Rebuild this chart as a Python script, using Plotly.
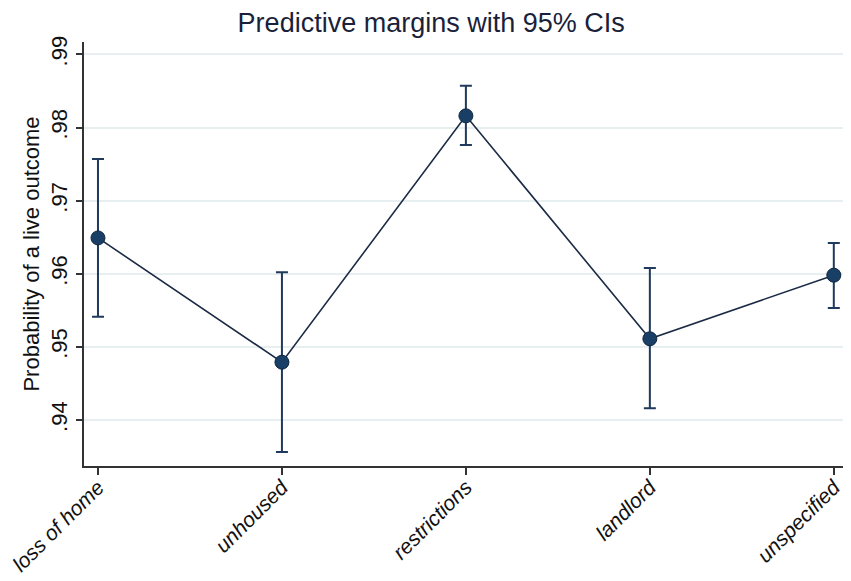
import plotly.graph_objects as go

# Predictive margins
categories = ["loss of home", "unhoused", "restrictions", "landlord", "unspecified"]
margin = [0.9649, 0.9479, 0.9816, 0.9511, 0.9598]
ci_low = [0.9541, 0.9356, 0.9776, 0.9416, 0.9553]
ci_high = [0.9757, 0.9602, 0.9857, 0.9608, 0.9642]

y_ticks = [0.94, 0.95, 0.96, 0.97, 0.98, 0.99]
y_tick_labels = [".94", ".95", ".96", ".97", ".98", ".99"]

x_pos = list(range(len(categories)))
err_plus = [h - m for h, m in zip(ci_high, margin)]
err_minus = [m - l for m, l in zip(margin, ci_low)]

navy = "#1a3f66"
font_family = "Liberation Sans, Arial"

fig = go.Figure()
fig.add_trace(go.Scatter(
    x=x_pos,
    y=margin,
    mode="lines+markers",
    line=dict(color="#1c2b45", width=1.6),
    marker=dict(size=14, color=navy, line=dict(color="#10263f", width=1)),
    error_y=dict(
        type="data",
        symmetric=False,
        array=err_plus,
        arrayminus=err_minus,
        color="#1f3a5c",
        thickness=2,
        width=6,
    ),
    showlegend=False,
))

# page body adds an 8px margin, so the figure is 8px smaller than the window
fig.update_layout(
    width=843,
    height=573,
    paper_bgcolor="white",
    plot_bgcolor="white",
    margin=dict(l=76, r=8, t=34, b=115),
    title=dict(
        text="Predictive margins with 95% CIs",
        x=0.502,
        xref="container",
        xanchor="center",
        y=0.975,
        yanchor="middle",
        font=dict(family=font_family, size=27, color="#1a1f3a"),
    ),
    xaxis=dict(
        range=[-0.076, 4.05],
        automargin=False,
        tickmode="array",
        tickvals=x_pos,
        ticktext=categories,
        tickangle=-45,
        tickfont=dict(family=font_family, size=21, color="#111111", style="italic"),
        ticklabeloverflow="allow",
        ticklabelstandoff=-8,
        ticks="outside",
        ticklen=7,
        tickwidth=1.5,
        tickcolor="#333333",
        showline=True,
        linecolor="#333333",
        linewidth=1.5,
        showgrid=False,
        zeroline=False,
    ),
    yaxis=dict(
        range=[0.9337, 0.9917],
        automargin=False,
        tickmode="array",
        tickvals=y_ticks,
        ticktext=y_tick_labels,
        tickangle=-90,
        tickfont=dict(family=font_family, size=22, color="#111111"),
        ticks="outside",
        ticklen=6,
        tickwidth=1.5,
        tickcolor="#333333",
        showline=True,
        linecolor="#333333",
        linewidth=1.5,
        showgrid=True,
        gridcolor="#e8eff1",
        gridwidth=1.5,
        zeroline=False,
        title=dict(
            text="Probability of a live outcome",
            font=dict(family=font_family, size=22, color="#111111"),
            standoff=2,
        ),
    ),
)

fig.write_html("out.html")
